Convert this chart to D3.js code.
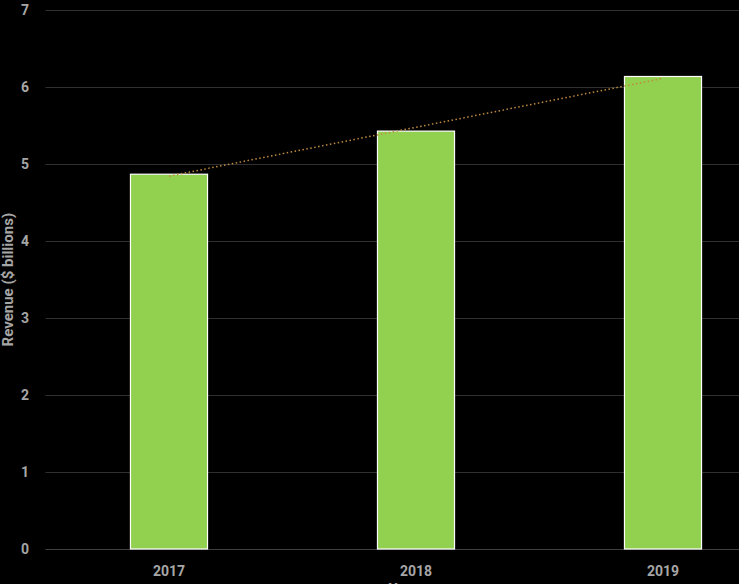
<!DOCTYPE html>
<html><head><meta charset="utf-8">
<script src="https://cdn.jsdelivr.net/npm/d3@7"></script>
<style>html,body{margin:0;padding:0;background:#000;overflow:hidden}</style>
</head><body>
<svg id="c" width="739" height="584"></svg>
<script>
const years = ["2017", "2018", "2019"];
const revenue = [4.87, 5.43, 6.14];
const yTicks = [0, 1, 2, 3, 4, 5, 6, 7];

const svg = d3.select("#c");
svg.append("rect").attr("width", 739).attr("height", 584).attr("fill", "#000");

const left = 45.5, stepW = 247;
const x = d3.scaleBand().domain(years).range([left, left + stepW * years.length]).paddingInner(0.688).paddingOuter(0.344);
const y = d3.scaleLinear().domain([0, 7]).range([549, 10.3]);

const font = "Roboto, 'Liberation Sans', sans-serif";
const txt = "#a6a6a6";

// gridlines
svg.append("g").selectAll("line").data(yTicks).join("line")
  .attr("x1", left).attr("x2", 739)
  .attr("y1", d => Math.round(y(d)) + 0.5).attr("y2", d => Math.round(y(d)) + 0.5)
  .attr("stroke", d => d === 0 ? "#404040" : "#303030").attr("stroke-width", 1.2);

// y tick labels
svg.append("g").selectAll("text").data(yTicks).join("text")
  .attr("x", 29).attr("y", d => y(d)).attr("dy", "0.35em")
  .attr("text-anchor", "end").attr("font-family", font).attr("font-weight", "bold")
  .attr("font-size", 14).attr("fill", txt).text(d => d);

// bars
svg.append("g").selectAll("rect").data(revenue).join("rect")
  .attr("x", (d, i) => x(years[i]))
  .attr("width", x.bandwidth())
  .attr("y", d => y(d))
  .attr("height", d => y(0) - y(d))
  .attr("fill", "#92d050").attr("stroke", "#ffffff").attr("stroke-width", 1.2);

// x labels
svg.append("g").selectAll("text").data(years).join("text")
  .attr("x", d => x(d) + x.bandwidth() / 2).attr("y", 571).attr("dy", "0.35em")
  .attr("text-anchor", "middle").attr("font-family", font).attr("font-weight", "bold")
  .attr("font-size", 14).attr("fill", txt).text(d => d);

// linear trendline (least squares)
const n = revenue.length;
const xs = revenue.map((d, i) => i);
const mx = d3.mean(xs), my = d3.mean(revenue);
const slope = d3.sum(xs.map((v, i) => (v - mx) * (revenue[i] - my))) / d3.sum(xs.map(v => (v - mx) ** 2));
const icpt = my - slope * mx;
const cx = i => x(years[i]) + x.bandwidth() / 2;
svg.append("line")
  .attr("x1", cx(0)).attr("y1", y(icpt))
  .attr("x2", cx(n - 1)).attr("y2", y(icpt + slope * (n - 1)))
  .attr("stroke", "#c08a3e").attr("stroke-width", 1.5).attr("stroke-dasharray", "1.5,2.5");

// axis titles
svg.append("text")
  .attr("transform", `translate(13,${(y(0) + y(7)) / 2}) rotate(-90)`)
  .attr("text-anchor", "middle").attr("font-family", font).attr("font-weight", "bold")
  .attr("font-size", 15).attr("fill", txt).text("Revenue ($ billions)");
svg.append("text")
  .attr("x", 403).attr("y", 594).attr("text-anchor", "middle")
  .attr("font-family", font).attr("font-weight", "bold")
  .attr("font-size", 14).attr("fill", txt).text("Year");
</script>
</body></html>
